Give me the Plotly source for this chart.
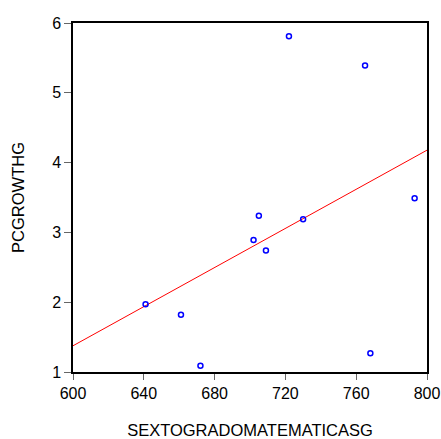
import numpy as np
import plotly.graph_objects as go

sexto = [641, 661, 672, 702, 705, 709, 722, 730, 765, 768, 793]
pcgrowth = [1.97, 1.82, 1.09, 2.89, 3.24, 2.74, 5.81, 3.19, 5.39, 1.27, 3.49]
x_ticks = [600, 640, 680, 720, 760, 800]
y_ticks = [1, 2, 3, 4, 5, 6]

slope, intercept = np.polyfit(sexto, pcgrowth, 1)
fit_x = [600, 800]
fit_y = [intercept + slope * v for v in fit_x]

fig = go.Figure()
fig.add_trace(go.Scatter(x=fit_x, y=fit_y, mode="lines",
                         line=dict(color="#ff0000", width=1), hoverinfo="skip"))
fig.add_trace(go.Scatter(x=sexto, y=pcgrowth, mode="markers",
                         marker=dict(symbol="circle-open", size=5, color="#0000ff",
                                     line=dict(width=1.5, color="#0000ff"))))

tick_font = dict(family="Liberation Sans, Arial, sans-serif", size=16, color="#000000")
title_font = dict(family="Liberation Sans, Arial, sans-serif", size=16.5, color="#000000")
fig.update_layout(
    width=441, height=439, showlegend=False,
    paper_bgcolor="white", plot_bgcolor="white",
    margin=dict(l=73, r=14, t=23, b=67),
    font=tick_font,
    xaxis=dict(range=[600, 800], tickvals=x_ticks, ticks="outside", ticklen=6,
               tickcolor="#666666", showline=True, linecolor="black", linewidth=1.5,
               mirror=True, showgrid=False, zeroline=False, automargin=False,
               tickfont=tick_font,
               title=dict(text="SEXTOGRADOMATEMATICASG", standoff=26, font=title_font)),
    yaxis=dict(range=[1, 6], tickvals=y_ticks, ticks="outside", ticklen=7,
               tickcolor="#666666", showline=True, linecolor="black", linewidth=1.5,
               mirror=True, showgrid=False, zeroline=False, automargin=False,
               tickfont=tick_font,
               title=dict(text="PCGROWTHG", standoff=23, font=title_font)),
)
fig.write_html("out.html")
